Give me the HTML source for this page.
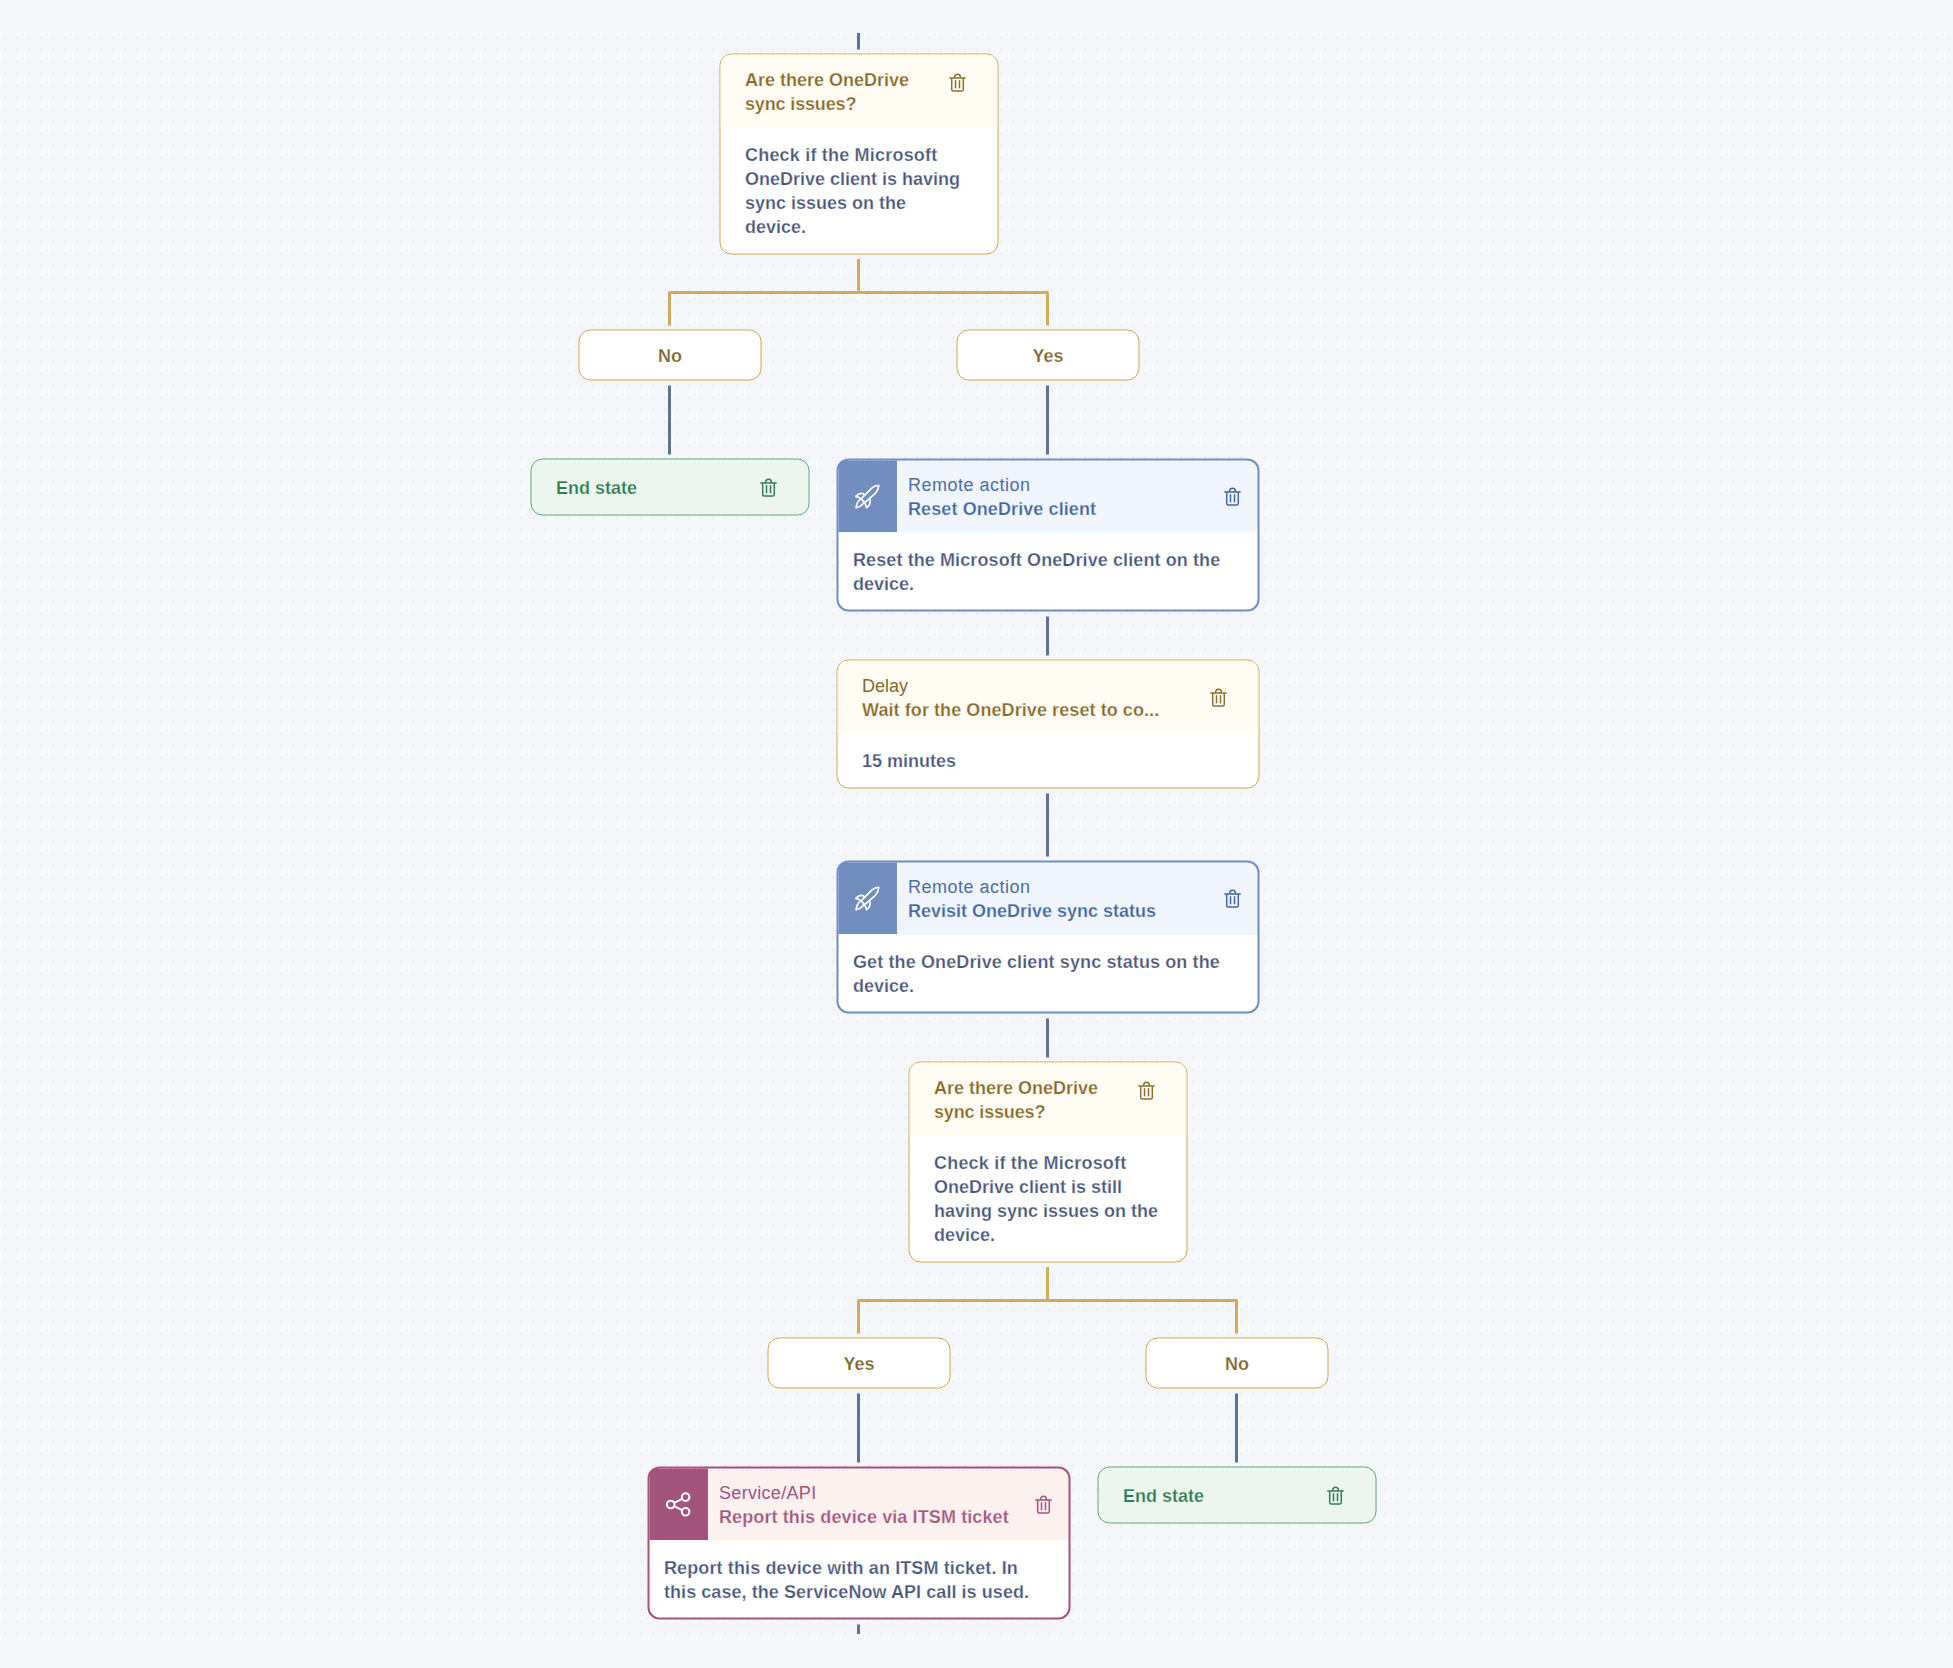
<!DOCTYPE html>
<html lang="en"><head><meta charset="utf-8"><title>Workflow</title>
<style>
html,body{margin:0;padding:0}
body{width:1953px;height:1668px;overflow:hidden;background:#f4f6fa;font-family:"Liberation Sans",sans-serif;font-size:18px;line-height:24px}
#canvas{position:relative;width:1953px;height:1668px;overflow:hidden;background:#f4f6fa}
#grid{position:absolute;left:0;top:32px}
#wires{position:absolute;left:0;top:0}
.node{position:absolute;box-sizing:content-box;overflow:hidden;background:#fff;border-radius:12px;transform:translate(0.5px,0.5px)}
.dec,.pill{border:1px solid #cea74f}
.end{border:1px solid #5ea87c;background:#edf6ee}
.act{border:2px solid}
.hd{position:absolute;left:0;top:0;right:0}
.cream{background:#fffdf3}
.sq{position:absolute;left:0;top:0;width:58.5px;height:71.5px}
.t{position:absolute;white-space:nowrap;font-size:18px;line-height:24px}
.b{font-weight:bold}
.n{font-weight:normal}
.ic{position:absolute;overflow:visible}
</style></head>
<body>
<div id="canvas">
<svg id="grid" width="1953" height="1604"><defs><pattern id="dots" x="0" y="0" width="12" height="12" patternUnits="userSpaceOnUse"><circle cx="5.1" cy="5.5" r="0.75" fill="#e0e0e8"/></pattern></defs><rect width="1953" height="1604" fill="url(#dots)"/></svg>
<svg id="wires" width="1953" height="1668"><rect x="857.0" y="33" width="3" height="16.5" fill="#5f7394"/><path d="M858.5 259V292.5M669.5 325.5V292.5H1047.5V325.5" fill="none" stroke="#d1ab5b" stroke-width="3" stroke-linejoin="round"/><rect x="668.0" y="385.5" width="3" height="69.0" fill="#5f7394"/><rect x="1046.0" y="385.5" width="3" height="69.0" fill="#5f7394"/><rect x="1046.0" y="616.5" width="3" height="39.0" fill="#5f7394"/><rect x="1046.0" y="793.5" width="3" height="63.0" fill="#5f7394"/><rect x="1046.0" y="1018.5" width="3" height="39.0" fill="#5f7394"/><path d="M1047.5 1267V1300.5M858.5 1333.5V1300.5H1236.5V1333.5" fill="none" stroke="#d1ab5b" stroke-width="3" stroke-linejoin="round"/><rect x="857.0" y="1393.5" width="3" height="69.0" fill="#5f7394"/><rect x="1235.0" y="1393.5" width="3" height="69.0" fill="#5f7394"/><rect x="857.0" y="1624.5" width="3" height="9.5" fill="#5f7394"/></svg>
<div class="node dec" style="left:719px;top:53px;width:277px;height:199px"><div class="hd cream" style="height:73px"></div></div><div class="t b" style="left:745px;top:68px;-webkit-text-stroke:0.25px #fffdf3;color:#86692a">Are there OneDrive<br><span style="letter-spacing:-0.15px">sync issues?</span></div><div class="t b" style="left:745px;top:143px;-webkit-text-stroke:0.25px #fff;color:#4a5679"><span style="letter-spacing:0.2px">Check if the Microsoft</span><br>OneDrive client is having<br>sync issues on the<br>device.</div><svg class="ic" style="left:947px;top:72px" width="22" height="22" viewBox="0 0 22 22"><path transform="translate(0.50 0.00)" d="M2.3 5.9H17.7M7.1 5.9V5.2a2.9 2.9 0 0 1 5.8 0v.7M4.2 5.9V17.5a1.5 1.5 0 0 0 1.5 1.5h8.6a1.5 1.5 0 0 0 1.5-1.5V5.9M8 8.75v7.1M12 8.75v7.1" fill="none" stroke="#887132" stroke-width="1.5" stroke-linecap="round"/></svg>
<div class="node dec" style="left:908px;top:1061px;width:277px;height:199px"><div class="hd cream" style="height:73px"></div></div><div class="t b" style="left:934px;top:1076px;-webkit-text-stroke:0.25px #fffdf3;color:#86692a">Are there OneDrive<br><span style="letter-spacing:-0.15px">sync issues?</span></div><div class="t b" style="left:934px;top:1151px;-webkit-text-stroke:0.25px #fff;color:#4a5679"><span style="letter-spacing:0.2px">Check if the Microsoft</span><br>OneDrive client is still<br>having sync issues on the<br>device.</div><svg class="ic" style="left:1136px;top:1080px" width="22" height="22" viewBox="0 0 22 22"><path transform="translate(0.50 0.00)" d="M2.3 5.9H17.7M7.1 5.9V5.2a2.9 2.9 0 0 1 5.8 0v.7M4.2 5.9V17.5a1.5 1.5 0 0 0 1.5 1.5h8.6a1.5 1.5 0 0 0 1.5-1.5V5.9M8 8.75v7.1M12 8.75v7.1" fill="none" stroke="#887132" stroke-width="1.5" stroke-linecap="round"/></svg>
<div class="node pill" style="left:578px;top:329px;width:181px;height:49px"></div><div class="t b" style="left:578px;width:184px;text-align:center;top:344px;color:#7d632a;-webkit-text-stroke:0.25px #fff">No</div>
<div class="node pill" style="left:956px;top:329px;width:181px;height:49px"></div><div class="t b" style="left:956px;width:184px;text-align:center;top:344px;color:#7d632a;-webkit-text-stroke:0.25px #fff">Yes</div>
<div class="node pill" style="left:767px;top:1337px;width:181px;height:49px"></div><div class="t b" style="left:767px;width:184px;text-align:center;top:1352px;color:#7d632a;-webkit-text-stroke:0.25px #fff">Yes</div>
<div class="node pill" style="left:1145px;top:1337px;width:181px;height:49px"></div><div class="t b" style="left:1145px;width:184px;text-align:center;top:1352px;color:#7d632a;-webkit-text-stroke:0.25px #fff">No</div>
<div class="node end" style="left:530px;top:458px;width:277px;height:55px"></div><div class="t b" style="left:556px;top:476px;-webkit-text-stroke:0.25px #edf6ee;color:#2f7a55">End state</div><svg class="ic" style="left:758px;top:477px" width="22" height="22" viewBox="0 0 22 22"><path transform="translate(0.50 0.00)" d="M2.3 5.9H17.7M7.1 5.9V5.2a2.9 2.9 0 0 1 5.8 0v.7M4.2 5.9V17.5a1.5 1.5 0 0 0 1.5 1.5h8.6a1.5 1.5 0 0 0 1.5-1.5V5.9M8 8.75v7.1M12 8.75v7.1" fill="none" stroke="#347a54" stroke-width="1.5" stroke-linecap="round"/></svg>
<div class="node end" style="left:1097px;top:1466px;width:277px;height:55px"></div><div class="t b" style="left:1123px;top:1484px;-webkit-text-stroke:0.25px #edf6ee;color:#2f7a55">End state</div><svg class="ic" style="left:1325px;top:1485px" width="22" height="22" viewBox="0 0 22 22"><path transform="translate(0.50 0.00)" d="M2.3 5.9H17.7M7.1 5.9V5.2a2.9 2.9 0 0 1 5.8 0v.7M4.2 5.9V17.5a1.5 1.5 0 0 0 1.5 1.5h8.6a1.5 1.5 0 0 0 1.5-1.5V5.9M8 8.75v7.1M12 8.75v7.1" fill="none" stroke="#347a54" stroke-width="1.5" stroke-linecap="round"/></svg>
<div class="node act" style="left:836px;top:458px;width:419px;height:149px;border-color:#718ebe;background:linear-gradient(#718ebe,#718ebe) 0 0/60.5px 73.5px no-repeat border-box,linear-gradient(#f1f5fd,#f1f5fd) 0 0/100% 74px no-repeat border-box,#fff"></div><svg class="ic" style="left:850px;top:479px" width="34" height="35" viewBox="0 0 34 35"><g transform="translate(17.2 17.4) scale(0.95) translate(-17.2 -17.4)" fill="none" stroke="#fff" stroke-width="1.75" stroke-linejoin="round" stroke-linecap="round"><path d="M11.75 18.89L22.3 8.5Q25.4 5.9 29.38 5.67Q29.3 10.2 26 13.85L15.53 23.08"/><path d="M5.25 17.42C7.2 18 8.8 18.7 10.07 19.52S12.6 21.6 13.43 22.67S14.7 24.3 15.11 25.18S16.2 27.8 16.58 29.17"/><path d="M5.25 17.42C6.3 16 7.3 15.4 8.39 14.9C9.6 14.4 10.7 14.2 11.75 14.27C12.6 14.3 13.3 14.7 14.3 16.2"/><path d="M16.58 29.17C17.6 28.6 18.4 27.9 18.89 27.28C19.5 26.4 19.8 25.6 19.94 24.76C20.2 23.6 20.3 22.8 20.25 22.04C20.2 21.3 20 20.7 19.6 19.6"/><path d="M10.6 20C8.9 21 7.6 22.8 6.9 24.3C6.2 25.9 5.7 27.5 5.46 29.38C7.2 29 8.5 28.5 9.44 27.91C10.6 27.2 11.5 26.5 12.17 25.81C12.8 25 13.2 24 13.5 22.8"/></g></svg><div class="t n" style="left:908px;top:473px;color:#4d6da7"><span style="letter-spacing:0.5px">Remote action</span></div><div class="t b" style="left:908px;top:497px;-webkit-text-stroke:0.25px #f1f5fd;color:#4365a2"><span style="letter-spacing:0.1px">Reset OneDrive client</span></div><div class="t b" style="left:853px;top:548px;-webkit-text-stroke:0.25px #fff;color:#4a5679"><span style="letter-spacing:0.1px">Reset the Microsoft OneDrive client on the</span><br>device.</div><svg class="ic" style="left:1222px;top:486px" width="22" height="22" viewBox="0 0 22 22"><path transform="translate(0.50 0.00)" d="M2.3 5.9H17.7M7.1 5.9V5.2a2.9 2.9 0 0 1 5.8 0v.7M4.2 5.9V17.5a1.5 1.5 0 0 0 1.5 1.5h8.6a1.5 1.5 0 0 0 1.5-1.5V5.9M8 8.75v7.1M12 8.75v7.1" fill="none" stroke="#4365a2" stroke-width="1.5" stroke-linecap="round"/></svg>
<div class="node act" style="left:836px;top:860px;width:419px;height:149px;border-color:#718ebe;background:linear-gradient(#718ebe,#718ebe) 0 0/60.5px 73.5px no-repeat border-box,linear-gradient(#f1f5fd,#f1f5fd) 0 0/100% 74px no-repeat border-box,#fff"></div><svg class="ic" style="left:850px;top:881px" width="34" height="35" viewBox="0 0 34 35"><g transform="translate(17.2 17.4) scale(0.95) translate(-17.2 -17.4)" fill="none" stroke="#fff" stroke-width="1.75" stroke-linejoin="round" stroke-linecap="round"><path d="M11.75 18.89L22.3 8.5Q25.4 5.9 29.38 5.67Q29.3 10.2 26 13.85L15.53 23.08"/><path d="M5.25 17.42C7.2 18 8.8 18.7 10.07 19.52S12.6 21.6 13.43 22.67S14.7 24.3 15.11 25.18S16.2 27.8 16.58 29.17"/><path d="M5.25 17.42C6.3 16 7.3 15.4 8.39 14.9C9.6 14.4 10.7 14.2 11.75 14.27C12.6 14.3 13.3 14.7 14.3 16.2"/><path d="M16.58 29.17C17.6 28.6 18.4 27.9 18.89 27.28C19.5 26.4 19.8 25.6 19.94 24.76C20.2 23.6 20.3 22.8 20.25 22.04C20.2 21.3 20 20.7 19.6 19.6"/><path d="M10.6 20C8.9 21 7.6 22.8 6.9 24.3C6.2 25.9 5.7 27.5 5.46 29.38C7.2 29 8.5 28.5 9.44 27.91C10.6 27.2 11.5 26.5 12.17 25.81C12.8 25 13.2 24 13.5 22.8"/></g></svg><div class="t n" style="left:908px;top:875px;color:#4d6da7"><span style="letter-spacing:0.5px">Remote action</span></div><div class="t b" style="left:908px;top:899px;-webkit-text-stroke:0.25px #f1f5fd;color:#4365a2">Revisit OneDrive sync status</div><div class="t b" style="left:853px;top:950px;-webkit-text-stroke:0.25px #fff;color:#4a5679"><span style="letter-spacing:0.115px">Get the OneDrive client sync status on the</span><br>device.</div><svg class="ic" style="left:1222px;top:888px" width="22" height="22" viewBox="0 0 22 22"><path transform="translate(0.50 0.00)" d="M2.3 5.9H17.7M7.1 5.9V5.2a2.9 2.9 0 0 1 5.8 0v.7M4.2 5.9V17.5a1.5 1.5 0 0 0 1.5 1.5h8.6a1.5 1.5 0 0 0 1.5-1.5V5.9M8 8.75v7.1M12 8.75v7.1" fill="none" stroke="#4365a2" stroke-width="1.5" stroke-linecap="round"/></svg>
<div class="node act" style="left:647px;top:1466px;width:419px;height:149px;border-color:#a3547d;background:linear-gradient(#a3547d,#a3547d) 0 0/60.5px 73.5px no-repeat border-box,linear-gradient(#fdf1f0,#fdf1f0) 0 0/100% 74px no-repeat border-box,#fff"></div><svg class="ic" style="left:660px;top:1486px" width="36" height="36" viewBox="0 0 36 36" fill="none" stroke="#fff" stroke-width="2"><circle cx="25.6" cy="11.1" r="3.8"/><circle cx="10.7" cy="18.5" r="3.8"/><circle cx="25.6" cy="25.8" r="3.8"/><path d="M14.1 16.8L22.2 12.8M14.1 20.2L22.2 24.1"/></svg><div class="t n" style="left:719px;top:1481px;color:#a3547d"><span style="letter-spacing:0.31px">Service/API</span></div><div class="t b" style="left:719px;top:1505px;-webkit-text-stroke:0.25px #fdf1f0;color:#a3547d"><span style="letter-spacing:0.11px">Report this device via ITSM ticket</span></div><div class="t b" style="left:664px;top:1556px;-webkit-text-stroke:0.25px #fff;color:#4a5679"><span style="letter-spacing:0.115px">Report this device with an ITSM ticket. In</span><br><span style="letter-spacing:0.06px">this case, the ServiceNow API call is used.</span></div><svg class="ic" style="left:1033px;top:1494px" width="22" height="22" viewBox="0 0 22 22"><path transform="translate(0.50 0.00)" d="M2.3 5.9H17.7M7.1 5.9V5.2a2.9 2.9 0 0 1 5.8 0v.7M4.2 5.9V17.5a1.5 1.5 0 0 0 1.5 1.5h8.6a1.5 1.5 0 0 0 1.5-1.5V5.9M8 8.75v7.1M12 8.75v7.1" fill="none" stroke="#a3547d" stroke-width="1.5" stroke-linecap="round"/></svg>
<div class="node dec" style="left:836px;top:659px;width:421px;height:127px"><div class="hd cream" style="height:73px"></div></div><div class="t n" style="left:862px;top:674px;color:#86692a">Delay</div><div class="t b" style="left:862px;top:698px;-webkit-text-stroke:0.25px #fffdf3;color:#86692a"><span style="letter-spacing:0.08px">Wait for the OneDrive reset to co...</span></div><div class="t b" style="left:862px;top:749px;-webkit-text-stroke:0.25px #fff;color:#4a5679">15 minutes</div><svg class="ic" style="left:1208px;top:687px" width="22" height="22" viewBox="0 0 22 22"><path transform="translate(0.50 0.00)" d="M2.3 5.9H17.7M7.1 5.9V5.2a2.9 2.9 0 0 1 5.8 0v.7M4.2 5.9V17.5a1.5 1.5 0 0 0 1.5 1.5h8.6a1.5 1.5 0 0 0 1.5-1.5V5.9M8 8.75v7.1M12 8.75v7.1" fill="none" stroke="#887132" stroke-width="1.5" stroke-linecap="round"/></svg>
</div>
</body></html>
